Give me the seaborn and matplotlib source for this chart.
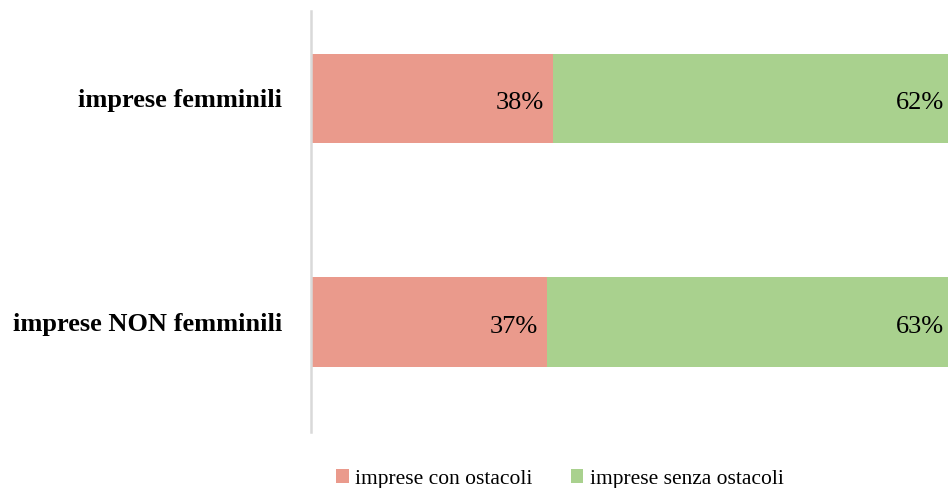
import matplotlib
matplotlib.use("Agg")
import matplotlib.pyplot as plt
import seaborn as sns
import pandas as pd
from matplotlib.patches import Patch

categories = ["imprese femminili", "imprese NON femminili"]
con_ostacoli = [38, 37]
senza_ostacoli = [62, 63]
series_names = ["imprese con ostacoli", "imprese senza ostacoli"]
colors = ["#EA9A8C", "#A9D18E"]

sns.set_style("white")
plt.rcParams["font.family"] = ["Liberation Serif", "DejaVu Serif"]

df = pd.DataFrame({"cat": categories, "con": con_ostacoli, "senza": senza_ostacoli})
df["total"] = df["con"] + df["senza"]

fig = plt.figure(figsize=(9.48, 4.88), dpi=100)
ax = fig.add_axes([311 / 948, 1 - 432 / 488, 1 - 311 / 948, (432 - 11) / 488])

sns.barplot(data=df, y="cat", x="total", color=colors[1], orient="h", width=0.4,
            saturation=1, linewidth=0, ax=ax)
sns.barplot(data=df, y="cat", x="con", color=colors[0], orient="h", width=0.4,
            saturation=1, linewidth=0, ax=ax)

for i, (c, s) in enumerate(zip(con_ostacoli, senza_ostacoli)):
    ax.text(c - 1.4, i + 0.02, f"{c}%", ha="right", va="center", fontsize=19, color="black")
    ax.text(c + s - 0.6, i + 0.02, f"{s}%", ha="right", va="center", fontsize=19, color="black")

ax.set_xlim(0, 100)
ax.set_ylim(1.49, -0.39)
ax.set_xlabel("")
ax.set_ylabel("")
ax.set_xticks([])
ax.tick_params(axis="y", length=0, pad=21, labelcolor="black")
for lbl in ax.get_yticklabels():
    lbl.set_fontweight("bold")
    lbl.set_fontsize(19)
for side in ["top", "right", "bottom"]:
    ax.spines[side].set_visible(False)
ax.spines["left"].set_color("#D9D9D9")
ax.spines["left"].set_linewidth(1.8)

handles = [Patch(facecolor=colors[0], edgecolor="none"), Patch(facecolor=colors[1], edgecolor="none")]
fig.legend(handles, series_names, loc="center", bbox_to_anchor=(560 / 948, 1 - 479 / 488),
           ncol=2, frameon=False, fontsize=15.5, handlelength=0.56, handleheight=0.56,
           handletextpad=0.3, columnspacing=1.8, labelcolor="black")

fig.savefig("out.png", dpi=100)
